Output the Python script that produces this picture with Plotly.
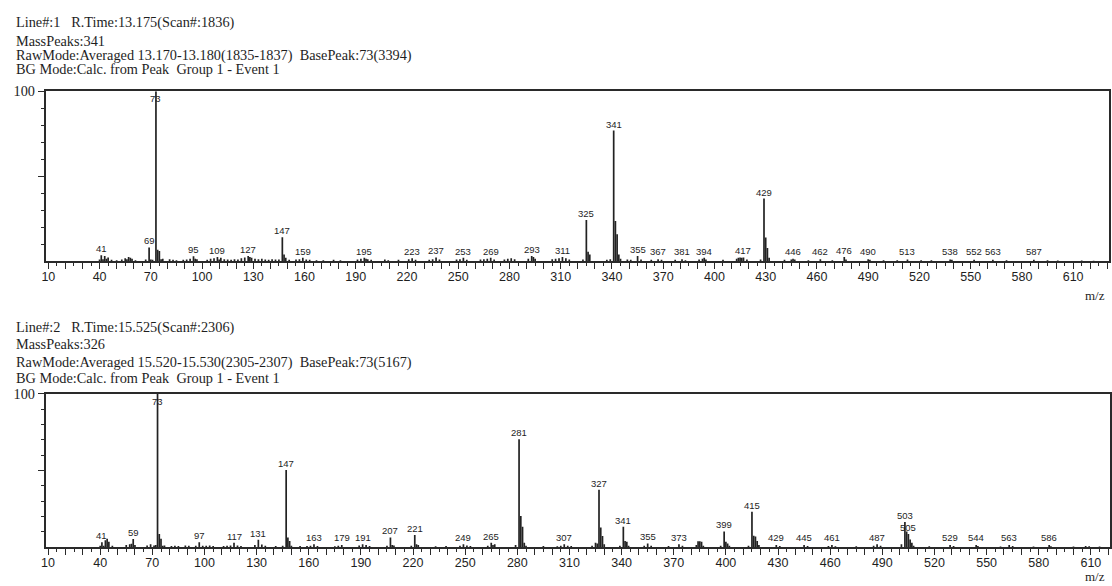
import plotly.graph_objects as go

# ---------------- spectrum 1 (Line#:1, R.Time 13.175) ----------------
top_mz = [40, 41, 42, 43, 44, 45, 47, 50, 53, 55, 56, 57, 58, 59, 61, 67, 69, 70, 71, 73,
          74, 75, 76, 77, 81, 83, 85, 89, 91, 93, 95, 96, 97, 103, 105, 107, 109, 110, 111, 113,
          115, 117, 119, 121, 123, 125, 127, 128, 129, 131, 133, 135, 137, 139, 141, 143, 145, 147, 148, 149,
          151, 155, 157, 159, 161, 163, 167, 171, 177, 181, 191, 193, 195, 196, 197, 199, 207, 209, 215, 221,
          223, 225, 233, 235, 237, 239, 249, 251, 253, 255, 263, 265, 267, 269, 271, 277, 279, 281, 283, 291,
          293, 294, 295, 305, 307, 309, 311, 313, 315, 323, 325, 326, 327, 337, 339, 341, 342, 343, 344, 345,
          349, 351, 355, 357, 363, 367, 369, 377, 381, 383, 391, 393, 394, 395, 405, 413, 414, 415, 416, 417,
          419, 427, 429, 430, 431, 432, 441, 445, 446, 447, 455, 462, 469, 476, 477, 490, 491, 499, 507, 513,
          521, 527, 538, 539, 552, 563, 571, 587, 595, 601, 615, 622]
top_int = [1.0, 3.5, 1.2, 3.0, 1.5, 2.2, 0.8, 0.6, 1.0, 1.8, 1.2, 2.5, 2.0, 1.5, 0.5, 1.0, 8.1, 1.0, 0.8, 100.0,
           6.8, 6.0, 1.2, 1.5, 1.2, 0.8, 0.6, 0.8, 1.0, 1.5, 2.9, 1.5, 1.2, 0.8, 1.5, 1.8, 2.5, 1.0, 2.0, 1.2,
           1.0, 0.8, 1.2, 1.0, 1.8, 2.2, 3.0, 2.5, 2.0, 1.5, 1.2, 1.5, 1.0, 0.8, 1.2, 1.0, 1.0, 14.1, 4.0, 2.0,
           0.8, 1.0, 1.2, 2.0, 1.0, 0.8, 0.6, 0.6, 0.8, 0.6, 1.0, 1.5, 2.0, 1.5, 1.2, 0.8, 1.0, 0.6, 0.8, 1.2,
           1.8, 0.8, 0.8, 1.2, 2.2, 1.0, 1.0, 1.2, 2.0, 0.8, 1.0, 1.2, 1.5, 2.0, 1.0, 1.0, 1.5, 1.8, 1.2, 1.5,
           3.0, 2.5, 1.5, 1.2, 1.5, 1.8, 2.5, 1.8, 1.0, 1.0, 24.2, 5.5, 4.0, 0.8, 1.2, 76.8, 23.6, 15.9, 4.0, 1.5,
           1.0, 0.8, 3.0, 1.0, 0.8, 1.2, 0.8, 0.8, 1.2, 0.6, 1.0, 1.5, 2.0, 1.0, 0.8, 1.5, 2.0, 2.2, 2.0, 2.2,
           1.0, 1.0, 36.8, 13.9, 7.7, 2.0, 0.8, 1.0, 1.5, 1.0, 0.6, 1.2, 0.6, 2.5, 1.0, 1.2, 0.8, 0.5, 0.6, 1.0,
           0.6, 0.5, 1.0, 0.8, 0.8, 0.8, 0.5, 0.8, 0.5, 0.4, 0.4, 0.3]
top_labels = [41, 69, 73, 95, 109, 127, 147, 159, 195, 223, 237, 253, 269, 293, 311, 325, 341, 355,
              367, 381, 394, 417, 429, 446, 462, 476, 490, 513, 538, 552, 563, 587]
top_header = ["Line#:1   R.Time:13.175(Scan#:1836)",
              "MassPeaks:341",
              "RawMode:Averaged 13.170-13.180(1835-1837)  BasePeak:73(3394)",
              "BG Mode:Calc. from Peak  Group 1 - Event 1"]

# ---------------- spectrum 2 (Line#:2, R.Time 15.525) ----------------
bot_mz = [40, 41, 42, 43, 44, 45, 47, 55, 57, 58, 59, 60, 67, 69, 71, 72, 73, 74, 75, 76,
          77, 81, 83, 85, 89, 91, 95, 97, 99, 101, 103, 105, 111, 113, 115, 117, 119, 121, 129, 131,
          133, 135, 141, 145, 147, 148, 149, 150, 155, 159, 161, 163, 165, 175, 177, 179, 189, 191, 193, 195,
          205, 207, 208, 209, 219, 221, 222, 223, 233, 239, 247, 249, 251, 253, 263, 265, 266, 267, 279, 281,
          282, 283, 284, 285, 295, 303, 305, 307, 309, 311, 323, 325, 326, 327, 328, 329, 330, 339, 341, 342,
          343, 344, 353, 355, 357, 367, 373, 375, 383, 384, 385, 386, 387, 397, 399, 400, 401, 402, 413, 415,
          416, 417, 418, 419, 429, 431, 445, 447, 459, 461, 463, 475, 485, 487, 489, 501, 503, 504, 505, 506,
          507, 508, 517, 529, 531, 544, 545, 558, 563, 565, 577, 586, 587, 600, 607, 609, 615]
bot_int = [1.0, 3.2, 1.0, 4.5, 5.6, 3.5, 1.0, 1.5, 2.0, 2.2, 5.4, 1.5, 1.2, 2.0, 1.2, 1.5, 100.0, 8.6, 5.5, 1.0,
           1.2, 0.8, 1.0, 0.8, 1.2, 1.0, 1.0, 3.2, 1.0, 1.0, 1.2, 0.8, 0.8, 1.0, 1.2, 3.0, 1.2, 0.8, 1.5, 4.9,
           1.8, 1.0, 0.8, 1.0, 50.3, 6.4, 4.0, 1.0, 0.8, 0.8, 1.0, 2.0, 0.8, 0.6, 1.0, 1.5, 1.2, 2.0, 1.5, 0.8,
           1.0, 6.4, 1.5, 1.2, 1.0, 8.0, 2.0, 1.5, 0.6, 0.8, 1.0, 2.0, 1.2, 0.8, 1.0, 3.0, 1.5, 2.0, 1.5, 70.3,
           20.4, 13.3, 3.0, 1.0, 0.8, 0.6, 1.0, 2.0, 1.0, 0.8, 1.0, 3.0, 2.5, 37.5, 12.8, 7.3, 2.0, 1.0, 13.3, 4.0,
           3.5, 1.0, 1.0, 2.5, 1.0, 0.8, 2.0, 1.0, 1.5, 3.9, 3.9, 3.6, 1.0, 1.0, 10.3, 3.5, 2.5, 1.0, 1.0, 23.1,
           7.5, 7.0, 4.0, 1.5, 1.5, 0.8, 1.5, 0.8, 0.8, 1.5, 0.6, 0.6, 1.0, 2.0, 1.0, 2.0, 16.5, 10.3, 8.6, 5.0,
           3.0, 1.0, 0.6, 1.5, 0.8, 1.5, 0.8, 0.5, 1.5, 0.8, 0.5, 1.5, 0.6, 0.5, 0.8, 0.6, 0.5]
bot_labels = [41, 59, 73, 97, 117, 131, 147, 163, 179, 191, 207, 221, 249, 265, 281, 307, 327, 341,
              355, 373, 399, 415, 429, 445, 461, 487, 503, 505, 529, 544, 563, 586]
bot_header = ["Line#:2   R.Time:15.525(Scan#:2306)",
              "MassPeaks:326",
              "RawMode:Averaged 15.520-15.530(2305-2307)  BasePeak:73(5167)",
              "BG Mode:Calc. from Peak  Group 1 - Event 1"]

W, H = 1112, 586
SERIF = "Liberation Serif"
SANS = "Liberation Sans"
INK = "#1e1e1e"
AXIS = "#2a2a2a"

panels = [
    dict(mz=top_mz, inten=top_int, labels=top_labels, header=top_header,
         xr=[8.5, 631], ydom=(84.3, 256.7), xdom=(41, 1110),
         header_y=[15, 33, 48, 61.5], mz_pos=(1096, 291)),
    dict(mz=bot_mz, inten=bot_int, labels=bot_labels, header=bot_header,
         xr=[8.7, 621], ydom=(391, 546.7), xdom=(41, 1111),
         header_y=[324, 341, 359, 375], mz_pos=(1096, 576)),
]

fig = go.Figure()
annotations = []
layout_axes = {}

for i, p in enumerate(panels, start=1):
    xa = "x" if i == 1 else f"x{i}"
    ya = "y" if i == 1 else f"y{i}"

    # stick spectrum: one vertical segment per m/z
    xs, ys = [], []
    for m, v in zip(p["mz"], p["inten"]):
        xs += [m, m, None]
        ys += [0, v, None]
    fig.add_trace(go.Scatter(x=xs, y=ys, mode="lines", xaxis=xa, yaxis=ya,
                             line=dict(color="#222222", width=1.7),
                             hoverinfo="skip", showlegend=False))

    # peak m/z labels
    lookup = dict(zip(p["mz"], p["inten"]))
    for m in p["labels"]:
        v = lookup.get(m, 1.0)
        if v >= 95:
            annotations.append(dict(x=m, y=v, xref=xa, yref=ya, text=str(m),
                                    showarrow=False, xanchor="center", yanchor="top",
                                    yshift=0, font=dict(family=SANS, size=9.5, color=INK)))
        else:
            annotations.append(dict(x=m, y=max(v, 1.8), xref=xa, yref=ya, text=str(m),
                                    showarrow=False, xanchor="center", yanchor="bottom",
                                    yshift=-1, font=dict(family=SANS, size=9.5, color=INK)))

    # header lines
    for line, yy in zip(p["header"], p["header_y"]):
        annotations.append(dict(x=9 / W, y=1 - yy / H, xref="paper", yref="paper",
                                text=line.replace(" ", "\u00a0"), showarrow=False,
                                xanchor="left", yanchor="middle",
                                font=dict(family=SERIF, size=14.3, color=INK)))

    # m/z axis caption
    annotations.append(dict(x=p["mz_pos"][0] / W, y=1 - p["mz_pos"][1] / H,
                            xref="paper", yref="paper", text="m/z", showarrow=False,
                            xanchor="center", yanchor="middle",
                            font=dict(family=SERIF, size=13, color=INK)))

    xticks = list(range(10, int(p["xr"][1]) + 1, 10))
    xtext = [str(v) if (v - 10) % 30 == 0 else "" for v in xticks]

    y0, y1 = p["ydom"]
    x0, x1 = p["xdom"]
    layout_axes["xaxis" if i == 1 else f"xaxis{i}"] = dict(
        domain=[x0 / W, x1 / W], anchor=ya, range=p["xr"],
        showgrid=False, zeroline=False, showline=True, mirror=True,
        linecolor=AXIS, linewidth=1.8,
        tickmode="array", tickvals=xticks, ticktext=xtext,
        ticks="outside", ticklen=6, tickwidth=1.3, tickcolor=AXIS,
        minor=dict(tickmode="linear", tick0=5, dtick=10, ticks="outside",
                   ticklen=3, tickwidth=1.2, tickcolor=AXIS),
        tickfont=dict(family=SANS, size=12.5, color=INK),
        ticklabelstandoff=-3,
        fixedrange=True,
    )
    layout_axes["yaxis" if i == 1 else f"yaxis{i}"] = dict(
        domain=[1 - y1 / H, 1 - y0 / H], anchor=xa, range=[0, 100],
        showgrid=False, zeroline=False, showline=True, mirror=True,
        linecolor=AXIS, linewidth=1.8,
        tickmode="array", tickvals=[50, 100], ticktext=["", "100"],
        ticks="outside", ticklen=6, tickwidth=1.3, tickcolor=AXIS,
        minor=dict(tickmode="array", tickvals=[10, 20, 30, 40, 60, 70, 80, 90],
                   ticks="outside", ticklen=3, tickwidth=1.2, tickcolor=AXIS),
        tickfont=dict(family=SERIF, size=14.3, color=INK),
        ticklabelstandoff=0,
        fixedrange=True,
    )

fig.update_layout(
    width=W, height=H,
    margin=dict(l=0, r=0, t=0, b=0),
    paper_bgcolor="white", plot_bgcolor="white",
    annotations=annotations,
    showlegend=False,
    **layout_axes,
)

fig.write_html("out.html", config={"displayModeBar": False})
